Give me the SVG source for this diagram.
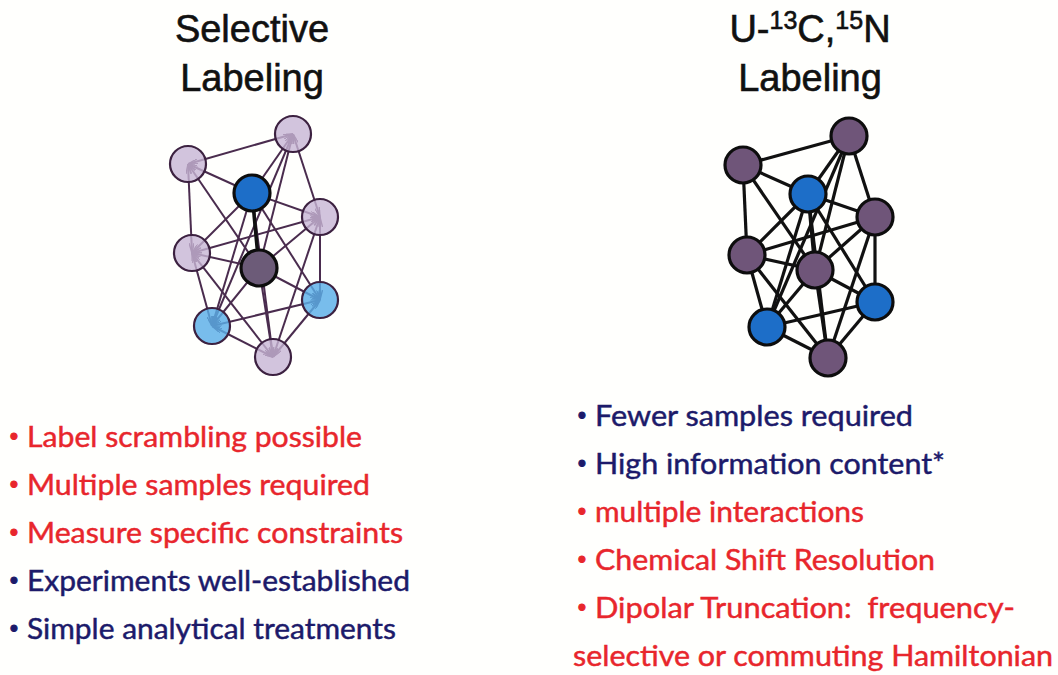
<svg xmlns="http://www.w3.org/2000/svg" width="1058" height="675" viewBox="0 0 1058 675">
  <style>
    .title { font-family: "Liberation Sans", Arial, sans-serif; font-size: 38px; fill: #111; stroke: #111; stroke-width: 0.6; text-anchor: middle; }
    .sup { font-size: 25px; }
    .item { font-family: Lato, "Open Sans", sans-serif; font-size: 28px; stroke-width: 0.45; }
    .dot { font-family: Lato, "Open Sans", sans-serif; font-size: 17px; }
    .red { fill: #e8262c; stroke: #e8262c; }
    .navy { fill: #1c1a6a; stroke: #1c1a6a; }
    .edge-sel { stroke: #4a2c4e; stroke-width: 2; }
    .edge-sel.tip { marker-end: url(#tip); }
    .edge-sel.both { marker-start: url(#tip); marker-end: url(#tip); }
    .edge-core { stroke: #111; stroke-width: 3.5; }
    .edge-uni { stroke: #111; stroke-width: 3.2; }
    circle { r: 18px; }
    .n-lav { fill: #c7b5d5; fill-opacity: 0.8; stroke: #3c2140; stroke-width: 2.2; }
    .n-sky { fill: #5aaee8; fill-opacity: 0.82; stroke: #3c2140; stroke-width: 2.2; }
    .n-blue { fill: #1d6ec8; stroke: #0d0d0d; stroke-width: 3.2; }
    .n-dark { fill: #6c5b78; stroke: #0d0d0d; stroke-width: 3.2; }
    .n-purp { fill: #6f5579; stroke: #0d0d0d; stroke-width: 3.2; }
  </style>
  <defs>
    <marker id="tip" viewBox="0 0 10 5" refX="10" refY="2.5" markerWidth="10" markerHeight="5" markerUnits="userSpaceOnUse" orient="auto-start-reverse">
      <path d="M0,0 L10,2.5 L0,5" fill="none" stroke="#4a2c4e" stroke-width="1.4"/>
    </marker>
  </defs>

  <rect width="1058" height="675" fill="#fffffd"/>

  <!-- headings -->
  <g id="title-selective">
    <text class="title" x="252" y="42">Selective</text>
    <text class="title" x="252" y="91">Labeling</text>
  </g>
  <g id="title-uniform">
    <text class="title" x="810" y="42">U-<tspan class="sup" dy="-13">13</tspan><tspan dy="13">C,</tspan><tspan class="sup" dy="-13">15</tspan><tspan dy="13">N</tspan></text>
    <text class="title" x="810" y="91">Labeling</text>
  </g>

  <!-- selective labelling network: edges -->
  <g id="connectors-selective">
    <line class="edge-sel both" x1="188" y1="164" x2="293" y2="134"/>
    <line class="edge-sel both" x1="188" y1="164" x2="192" y2="253"/>
    <line class="edge-sel both" x1="293" y1="134" x2="320" y2="217"/>
    <line class="edge-sel both" x1="293" y1="134" x2="212" y2="326"/>
    <line class="edge-sel both" x1="320" y1="217" x2="320" y2="300"/>
    <line class="edge-sel both" x1="320" y1="217" x2="273" y2="357"/>
    <line class="edge-sel both" x1="320" y1="217" x2="192" y2="253"/>
    <line class="edge-sel both" x1="192" y1="253" x2="212" y2="326"/>
    <line class="edge-sel both" x1="192" y1="253" x2="273" y2="357"/>
    <line class="edge-sel both" x1="320" y1="300" x2="212" y2="326"/>
    <line class="edge-sel both" x1="320" y1="300" x2="273" y2="357"/>
    <line class="edge-sel both" x1="212" y1="326" x2="273" y2="357"/>
    <line class="edge-sel tip" x1="252" y1="193" x2="188" y2="164"/>
    <line class="edge-sel tip" x1="252" y1="193" x2="293" y2="134"/>
    <line class="edge-sel tip" x1="252" y1="193" x2="320" y2="217"/>
    <line class="edge-sel tip" x1="252" y1="193" x2="192" y2="253"/>
    <line class="edge-sel tip" x1="252" y1="193" x2="212" y2="326"/>
    <line class="edge-sel tip" x1="252" y1="193" x2="320" y2="300"/>
    <line class="edge-sel tip" x1="252" y1="193" x2="273" y2="357"/>
    <line class="edge-sel tip" x1="259" y1="268" x2="188" y2="164"/>
    <line class="edge-sel tip" x1="259" y1="268" x2="293" y2="134"/>
    <line class="edge-sel tip" x1="259" y1="268" x2="320" y2="217"/>
    <line class="edge-sel tip" x1="259" y1="268" x2="192" y2="253"/>
    <line class="edge-sel tip" x1="259" y1="268" x2="320" y2="300"/>
    <line class="edge-sel tip" x1="259" y1="268" x2="212" y2="326"/>
    <line class="edge-sel tip" x1="259" y1="268" x2="273" y2="357"/>
    <line class="edge-core" x1="252" y1="193" x2="259" y2="268"/>
  </g>

  <!-- selective labelling network: atoms -->
  <g id="sel-n1"><circle class="n-lav" cx="188" cy="164" r="18"/></g>
  <g id="sel-n2"><circle class="n-lav" cx="293" cy="134" r="18"/></g>
  <g id="sel-n3"><circle class="n-blue" cx="252" cy="193" r="18"/></g>
  <g id="sel-n4"><circle class="n-lav" cx="320" cy="217" r="18"/></g>
  <g id="sel-n5"><circle class="n-lav" cx="192" cy="253" r="18"/></g>
  <g id="sel-n6"><circle class="n-dark" cx="259" cy="268" r="18"/></g>
  <g id="sel-n7"><circle class="n-sky" cx="320" cy="300" r="18"/></g>
  <g id="sel-n8"><circle class="n-sky" cx="212" cy="326" r="18"/></g>
  <g id="sel-n9"><circle class="n-lav" cx="273" cy="357" r="18"/></g>

  <!-- uniform labelling network: edges -->
  <g id="connectors-uniform" class="edge-uni">
    <line x1="743" y1="165" x2="849" y2="136"/>
    <line x1="743" y1="165" x2="808" y2="194"/>
    <line x1="743" y1="165" x2="747" y2="255"/>
    <line x1="743" y1="165" x2="815" y2="270"/>
    <line x1="849" y1="136" x2="808" y2="194"/>
    <line x1="849" y1="136" x2="875" y2="217"/>
    <line x1="849" y1="136" x2="815" y2="270"/>
    <line x1="849" y1="136" x2="767" y2="327"/>
    <line x1="808" y1="194" x2="875" y2="217"/>
    <line x1="808" y1="194" x2="747" y2="255"/>
    <line x1="808" y1="194" x2="815" y2="270"/>
    <line x1="808" y1="194" x2="767" y2="327"/>
    <line x1="808" y1="194" x2="875" y2="302"/>
    <line x1="808" y1="194" x2="828" y2="358"/>
    <line x1="875" y1="217" x2="747" y2="255"/>
    <line x1="875" y1="217" x2="815" y2="270"/>
    <line x1="875" y1="217" x2="875" y2="302"/>
    <line x1="875" y1="217" x2="828" y2="358"/>
    <line x1="747" y1="255" x2="815" y2="270"/>
    <line x1="747" y1="255" x2="767" y2="327"/>
    <line x1="747" y1="255" x2="828" y2="358"/>
    <line x1="815" y1="270" x2="875" y2="302"/>
    <line x1="815" y1="270" x2="767" y2="327"/>
    <line x1="815" y1="270" x2="828" y2="358"/>
    <line x1="875" y1="302" x2="767" y2="327"/>
    <line x1="875" y1="302" x2="828" y2="358"/>
    <line x1="767" y1="327" x2="828" y2="358"/>
  </g>

  <!-- uniform labelling network: atoms -->
  <g id="uni-n1"><circle class="n-purp" cx="743" cy="165" r="18"/></g>
  <g id="uni-n2"><circle class="n-purp" cx="849" cy="136" r="18"/></g>
  <g id="uni-n3"><circle class="n-blue" cx="808" cy="194" r="18"/></g>
  <g id="uni-n4"><circle class="n-purp" cx="875" cy="217" r="18"/></g>
  <g id="uni-n5"><circle class="n-purp" cx="747" cy="255" r="18"/></g>
  <g id="uni-n6"><circle class="n-purp" cx="815" cy="270" r="18"/></g>
  <g id="uni-n7"><circle class="n-blue" cx="875" cy="302" r="18"/></g>
  <g id="uni-n8"><circle class="n-blue" cx="767" cy="327" r="18"/></g>
  <g id="uni-n9"><circle class="n-purp" cx="828" cy="358" r="18"/></g>

  <!-- selective labelling: pros and cons -->
  <g id="list-selective">
    <text class="dot red" x="9" y="442">•</text>
    <text class="item red" x="27" y="447" textLength="335" lengthAdjust="spacingAndGlyphs">Label scrambling possible</text>
    <text class="dot red" x="9" y="490">•</text>
    <text class="item red" x="27" y="495" textLength="343" lengthAdjust="spacingAndGlyphs">Multiple samples required</text>
    <text class="dot red" x="9" y="538">•</text>
    <text class="item red" x="27" y="543" textLength="376" lengthAdjust="spacingAndGlyphs">Measure specific constraints</text>
    <text class="dot navy" x="9" y="586">•</text>
    <text class="item navy" x="27" y="591" textLength="383" lengthAdjust="spacingAndGlyphs">Experiments well-established</text>
    <text class="dot navy" x="9" y="634">•</text>
    <text class="item navy" x="27" y="639" textLength="369" lengthAdjust="spacingAndGlyphs">Simple analytical treatments</text>
  </g>

  <!-- uniform labelling: pros and cons -->
  <g id="list-uniform">
    <text class="dot navy" x="577" y="421">•</text>
    <text class="item navy" x="595" y="426" textLength="318" lengthAdjust="spacingAndGlyphs">Fewer samples required</text>
    <text class="dot navy" x="577" y="469">•</text>
    <text class="item navy" x="595" y="474" textLength="350" lengthAdjust="spacingAndGlyphs">High information content*</text>
    <text class="dot red" x="577" y="517">•</text>
    <text class="item red" x="595" y="522" textLength="269" lengthAdjust="spacingAndGlyphs">multiple interactions</text>
    <text class="dot red" x="577" y="565">•</text>
    <text class="item red" x="595" y="570" textLength="340" lengthAdjust="spacingAndGlyphs">Chemical Shift Resolution</text>
    <text class="dot red" x="577" y="613">•</text>
    <text class="item red" x="595" y="618" textLength="420" lengthAdjust="spacingAndGlyphs" xml:space="preserve">Dipolar Truncation:  frequency-</text>
    <text class="item red" x="573" y="666" textLength="480" lengthAdjust="spacingAndGlyphs">selective or commuting Hamiltonian</text>
  </g>
</svg>
